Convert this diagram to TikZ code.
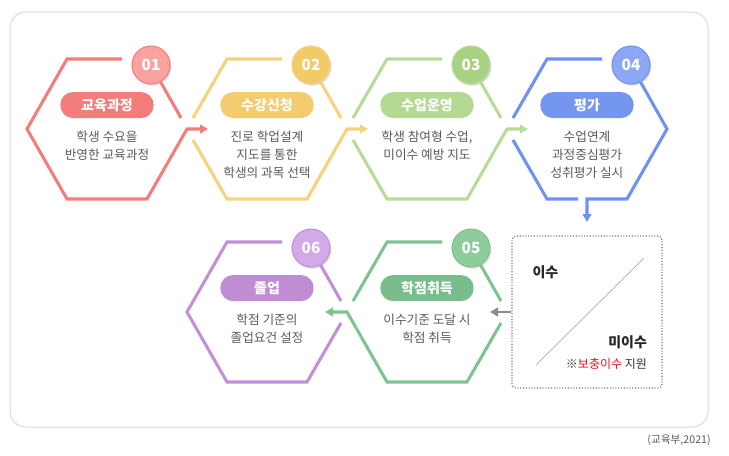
\documentclass[tikz,border=0pt]{standalone}
\usepackage{fontspec}
\setmainfont{Noto Sans CJK KR}
\usetikzlibrary{positioning,calc,arrows.meta,shadows}
\definecolor{redline}{HTML}{F27E7B}
\definecolor{redtag}{HTML}{F47C7A}
\definecolor{rednum}{HTML}{F9A39F}
\definecolor{yellowline}{HTML}{F7D27C}
\definecolor{yellowtag}{HTML}{F4CB6E}
\definecolor{yellownum}{HTML}{F3CA68}
\definecolor{limeline}{HTML}{B7DB98}
\definecolor{limetag}{HTML}{B4D992}
\definecolor{limenum}{HTML}{A8D182}
\definecolor{blueline}{HTML}{6F92F2}
\definecolor{bluetag}{HTML}{7596EF}
\definecolor{bluenum}{HTML}{8CA8F4}
\definecolor{greenline}{HTML}{7FC392}
\definecolor{greentag}{HTML}{7ABD8C}
\definecolor{greennum}{HTML}{8ECC9C}
\definecolor{purpleline}{HTML}{C290D8}
\definecolor{purpletag}{HTML}{C08DD4}
\definecolor{purplenum}{HTML}{D4A9E8}
\definecolor{bodygray}{HTML}{595959}
\definecolor{supportred}{HTML}{E8141B}
\newcommand{\HexStep}{120pt}

\tikzset{
	framebox/.style={draw=black!15, line width=0.75pt, rounded corners=12pt},
	hexline/.style={line width=2.3pt},
	flow/.style={-{Triangle[length=6pt, width=6.5pt]}},
	tag/.style={rectangle, rounded corners=9.5pt, minimum width=70pt, minimum height=19.5pt, inner sep=0pt, text=white, font=\bfseries\fontsize{10.5}{12}\selectfont},
	num/.style={circle, minimum size=28.5pt, inner sep=0pt, line width=0.8pt, text=white, font=\bfseries\fontsize{11.5}{13}\selectfont, drop shadow={shadow xshift=1pt, shadow yshift=-1.2pt, opacity=0.3}},
	body/.style={text=bodygray, align=center, inner sep=0pt, font=\fontsize{9.5}{13.5}\selectfont},
	minorbox/.style={draw=black!55, line width=0.9pt, dash pattern=on 0.8pt off 1.3pt, rounded corners=3pt, minimum width=112.5pt, minimum height=114pt},
	graylink/.style={draw=black!45, line width=1.8pt},
	passlabel/.style={text=black!85, font=\bfseries\fontsize{10.5}{12}\selectfont},
	note/.style={text=black!80, font=\fontsize{9}{11}\selectfont},
	source/.style={text=black!65, font=\fontsize{8}{10}\selectfont, inner sep=0pt},
}

\begin{document}
\begin{tikzpicture}[x=0.75pt, y=-0.75pt]
	\useasboundingbox (0,0) rectangle (729,455);
	\draw[framebox] (10,12) rectangle (708,427);
	\coordinate (h1) at (107,129);
	\coordinate[right=\HexStep of h1] (h2);
	\coordinate[right=\HexStep of h2] (h3);
	\coordinate[right=\HexStep of h3] (h4);
	\coordinate (h6) at (267,312);
	\coordinate[right=\HexStep of h6] (h5);
	\coordinate (a12) at ($(h2)+(-59,0)$);
	\coordinate (a23) at ($(h3)+(-59,0)$);
	\coordinate (a34) at ($(h4)+(-59,0)$);
	\coordinate (a4m) at ($(h4)+(0,93)$);
	\coordinate (a56) at ($(h6)+(58,0)$);
	\coordinate (am5) at ($(h5)+(63,0)$);

	\node[num, fill=rednum, draw=redline] (num1) at ($(h1)+(44,-64)$) {01};
	\node[num, fill=yellownum, draw=yellowline] (num2) at ($(h2)+(44,-64)$) {02};
	\node[num, fill=limenum, draw=limeline] (num3) at ($(h3)+(44,-64)$) {03};
	\node[num, fill=bluenum, draw=blueline] (num4) at ($(h4)+(44,-64)$) {04};
	\node[num, fill=greennum, draw=greenline] (num5) at ($(h5)+(44,-64)$) {05};
	\node[num, fill=purplenum, draw=purpleline] (num6) at ($(h6)+(44,-64)$) {06};

	\node[tag, fill=redtag, above=8pt of h1] (tag1) {교육과정};
	\node[tag, fill=yellowtag, above=8pt of h2] (tag2) {수강신청};
	\node[tag, fill=limetag, above=8pt of h3] (tag3) {수업운영};
	\node[tag, fill=bluetag, above=8pt of h4] (tag4) {평가};
	\node[tag, fill=greentag, above=8pt of h5] (tag5) {학점취득};
	\node[tag, fill=purpletag, above=8pt of h6] (tag6) {졸업};

	\node[body, below=9.5pt of tag1] (text1) {학생 수요을\\반영한 교육과정};
	\node[body, below=9.5pt of tag2] (text2) {진로 학업설계\\지도를 통한\\학생의 과목 선택};
	\node[body, below=9.5pt of tag3] (text3) {학생 참여형 수업,\\미이수 예방 지도};
	\node[body, below=9.5pt of tag4] (text4) {수업연계\\과정중심평가\\성취평가 실시};
	\node[body, below=9.5pt of tag5] (text5) {이수기준 도달 시\\학점 취득};
	\node[body, below=9.5pt of tag6] (text6) {학점 기준의\\졸업요건 설정};

	\draw[hexline, redline, flow] ($(h1)+(15,-70)$) -- ($(h1)+(-40,-70)$) -- ($(h1)+(-80,0)$) -- ($(h1)+(-40,70)$) -- ($(h1)+(40,70)$) -- ($(h1)+(80,0)$) -- (a12);
	\draw[hexline, redline] (num1) -- ($(h1)+(74,-11)$);

	\draw[hexline, yellowline] ($(h2)+(-74,-11)$) -- ($(h2)+(-40,-70)$) -- ($(h2)+(15,-70)$);
	\draw[hexline, yellowline, flow] ($(h2)+(-74,11)$) -- ($(h2)+(-40,70)$) -- ($(h2)+(40,70)$) -- ($(h2)+(80,0)$) -- (a23);
	\draw[hexline, yellowline] (num2) -- ($(h2)+(74,-11)$);

	\draw[hexline, limeline] ($(h3)+(-74,-11)$) -- ($(h3)+(-40,-70)$) -- ($(h3)+(15,-70)$);
	\draw[hexline, limeline, flow] ($(h3)+(-74,11)$) -- ($(h3)+(-40,70)$) -- ($(h3)+(40,70)$) -- ($(h3)+(80,0)$) -- (a34);
	\draw[hexline, limeline] (num3) -- ($(h3)+(74,-11)$);

	\draw[hexline, blueline] ($(h4)+(-74,-11)$) -- ($(h4)+(-40,-70)$) -- ($(h4)+(15,-70)$);
	\draw[hexline, blueline] ($(h4)+(-74,11)$) -- ($(h4)+(-40,70)$) -- ($(h4)+(-9,70)$);
	\draw[hexline, blueline, flow] (num4) -- ($(h4)+(80,0)$) -- ($(h4)+(40,70)$) -- ($(h4)+(0,70)$) -- (a4m);

	\draw[hexline, greenline] ($(h5)+(-74,-11)$) -- ($(h5)+(-40,-70)$) -- ($(h5)+(15,-70)$);
	\draw[hexline, greenline, flow] ($(h5)+(74,11)$) -- ($(h5)+(40,70)$) -- ($(h5)+(-40,70)$) -- ($(h5)+(-80,0)$) -- (a56);
	\draw[hexline, greenline] (num5) -- ($(h5)+(74,-11)$);

	\draw[hexline, purpleline] ($(h6)+(74,11)$) -- ($(h6)+(40,70)$) -- ($(h6)+(-40,70)$) -- ($(h6)+(-80,0)$) -- ($(h6)+(-40,-70)$) -- ($(h6)+(15,-70)$);
	\draw[hexline, purpleline] (num6) -- ($(h6)+(74,-11)$);

	\node[minorbox] (minor) at (h4 |- h5) {};
	\draw[black!40, line width=0.4pt] ($(minor.south west)+(25,-24)$) -- ($(minor.north east)+(-19,23)$);
	\node[passlabel] (pass) at ($(minor.north west)+(34,37)$) {이수};
	\node[passlabel, anchor=east] (fail) at ($(minor.north east)+(-11,107)$) {미이수};
	\node[note, anchor=east] (support) at ($(minor.north east)+(-11,129)$) {※\textcolor{supportred}{보충이수} 지원};
	\draw[graylink, flow] (minor) -- (am5);

	\node[source, anchor=east] (src) at (711,440) {(교육부,2021)};
\end{tikzpicture}
\end{document}
